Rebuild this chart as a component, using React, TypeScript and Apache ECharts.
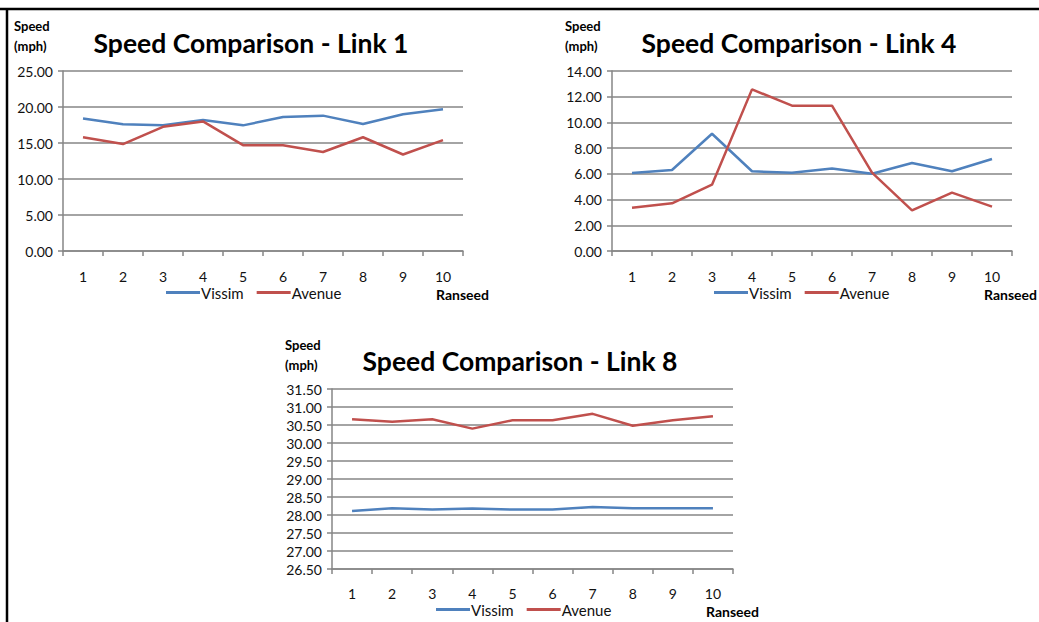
import React, { useEffect, useRef } from "react";
import * as echarts from "echarts";

const categories = ["1", "2", "3", "4", "5", "6", "7", "8", "9", "10"];

const link1Vissim = [18.4, 17.6, 17.45, 18.2, 17.45, 18.6, 18.8, 17.65, 19.0, 19.7];
const link1Avenue = [15.8, 14.85, 17.25, 18.0, 14.7, 14.7, 13.75, 15.8, 13.4, 15.4];

const link4Vissim = [6.07, 6.3, 9.12, 6.2, 6.09, 6.42, 6.01, 6.84, 6.2, 7.16];
const link4Avenue = [3.37, 3.71, 5.16, 12.57, 11.3, 11.3, 6.1, 3.16, 4.54, 3.45];

const link8Vissim = [28.11, 28.19, 28.15, 28.18, 28.15, 28.15, 28.22, 28.19, 28.19, 28.19];
const link8Avenue = [30.66, 30.59, 30.66, 30.4, 30.63, 30.63, 30.81, 30.48, 30.63, 30.74];

const titles = ["Speed Comparison - Link 1", "Speed Comparison - Link 4", "Speed Comparison - Link 8"];
const yRanges = [
  { min: 0, max: 25, interval: 5 },
  { min: 0, max: 14, interval: 2 },
  { min: 26.5, max: 31.5, interval: 0.5 },
];

const BLUE = "#4F81BD";
const RED = "#C0504D";
const GRID = "#868686";
const TEXT = "#111";
const FONT = "Lato, 'Open Sans', sans-serif";

export default function App() {
  const ref = useRef<HTMLDivElement>(null);

  useEffect(() => {
    if (!ref.current) return;
    const chart = echarts.init(ref.current, undefined, { renderer: "svg" });

    const grids = [
      { left: 63, top: 71, width: 400, height: 180 },
      { left: 612, top: 71, width: 400, height: 180 },
      { left: 332, top: 389, width: 401, height: 180 },
    ];
    const labelMargins = [18, 18, 17];
    const seriesData = [
      [link1Vissim, link1Avenue],
      [link4Vissim, link4Avenue],
      [link8Vissim, link8Avenue],
    ];
    const titlePos = [
      { x: 251, y: 43 },
      { x: 799, y: 43 },
      { x: 520, y: 361 },
    ];
    const unitPos = [
      { x: 14, y: 26 },
      { x: 565, y: 26 },
      { x: 285, y: 345 },
    ];
    const ranseedPos = [
      { x: 436, y: 294 },
      { x: 984, y: 294 },
      { x: 706, y: 611 },
    ];
    const legendPos = [
      { left: 166, top: 285 },
      { left: 714, top: 285 },
      { left: 436, top: 602 },
    ];

    const graphic: any[] = [
      {
        type: "line",
        shape: { x1: 0, y1: 9, x2: 1039, y2: 9 },
        style: { stroke: "#000", lineWidth: 2.5 },
      },
      {
        type: "line",
        shape: { x1: 7, y1: 8, x2: 7, y2: 622 },
        style: { stroke: "#000", lineWidth: 2.5 },
      },
    ];
    titles.forEach((t, i) => {
      graphic.push({
        type: "text",
        x: titlePos[i].x,
        y: titlePos[i].y,
        style: {
          text: t,
          font: `bold 26.5px ${FONT}`,
          fill: "#000",
          align: "center",
          verticalAlign: "middle",
        },
      });
      graphic.push({
        type: "text",
        x: unitPos[i].x,
        y: unitPos[i].y,
        style: {
          text: "Speed",
          font: `bold 13px ${FONT}`,
          fill: "#000",
          align: "left",
          verticalAlign: "middle",
        },
      });
      graphic.push({
        type: "text",
        x: unitPos[i].x,
        y: unitPos[i].y + 20,
        style: {
          text: "(mph)",
          font: `bold 13px ${FONT}`,
          fill: "#000",
          align: "left",
          verticalAlign: "middle",
        },
      });
      graphic.push({
        type: "text",
        x: ranseedPos[i].x,
        y: ranseedPos[i].y,
        style: {
          text: "Ranseed",
          font: `bold 14px ${FONT}`,
          fill: "#000",
          align: "left",
          verticalAlign: "middle",
        },
      });
    });

    const option: any = {
      animation: false,
      backgroundColor: "#fff",
      grid: grids.map((g) => ({ ...g, containLabel: false })),
      xAxis: grids.map((_, i) => ({
        type: "category",
        gridIndex: i,
        data: categories,
        boundaryGap: true,
        axisLine: { lineStyle: { color: GRID, width: 1.5 } },
        axisTick: { show: true, interval: 0, length: 5, lineStyle: { color: GRID, width: 1.5 } },
        axisLabel: {
          color: TEXT,
          fontSize: 14,
          fontFamily: FONT,
          margin: labelMargins[i],
          interval: 0,
        },
        splitLine: { show: false },
      })),
      yAxis: yRanges.map((r, i) => ({
        type: "value",
        gridIndex: i,
        min: r.min,
        max: r.max,
        interval: r.interval,
        axisLine: { show: true, lineStyle: { color: GRID, width: 1.5 } },
        axisTick: { show: true, length: 5, lineStyle: { color: GRID, width: 1.5 } },
        axisLabel: {
          color: TEXT,
          fontSize: 14,
          fontFamily: FONT,
          margin: 10,
          formatter: (v: number) => v.toFixed(2),
        },
        splitLine: { show: true, lineStyle: { color: GRID, width: 1.5 } },
      })),
      legend: legendPos.map((p) => ({
        left: p.left,
        top: p.top,
        padding: 0,
        orient: "horizontal",
        data: ["Vissim", "Avenue"],
        icon: "rect",
        itemWidth: 34,
        itemHeight: 3,
        itemGap: 13,
        selectedMode: false,
        textStyle: {
          color: TEXT,
          fontSize: 15,
          fontFamily: FONT,
          padding: [0, 0, 0, -4],
        },
      })),
      series: seriesData.flatMap((pair, i) => [
        {
          name: "Vissim",
          type: "line",
          xAxisIndex: i,
          yAxisIndex: i,
          data: pair[0],
          symbol: "none",
          lineStyle: { color: BLUE, width: 2.5 },
          itemStyle: { color: BLUE },
        },
        {
          name: "Avenue",
          type: "line",
          xAxisIndex: i,
          yAxisIndex: i,
          data: pair[1],
          symbol: "none",
          lineStyle: { color: RED, width: 2.5 },
          itemStyle: { color: RED },
        },
      ]),
      graphic,
    };

    chart.setOption(option);
    return () => chart.dispose();
  }, []);

  return (
    <div
      ref={ref}
      style={{ position: "absolute", left: 0, top: 0, width: 1039, height: 622 }}
    />
  );
}
